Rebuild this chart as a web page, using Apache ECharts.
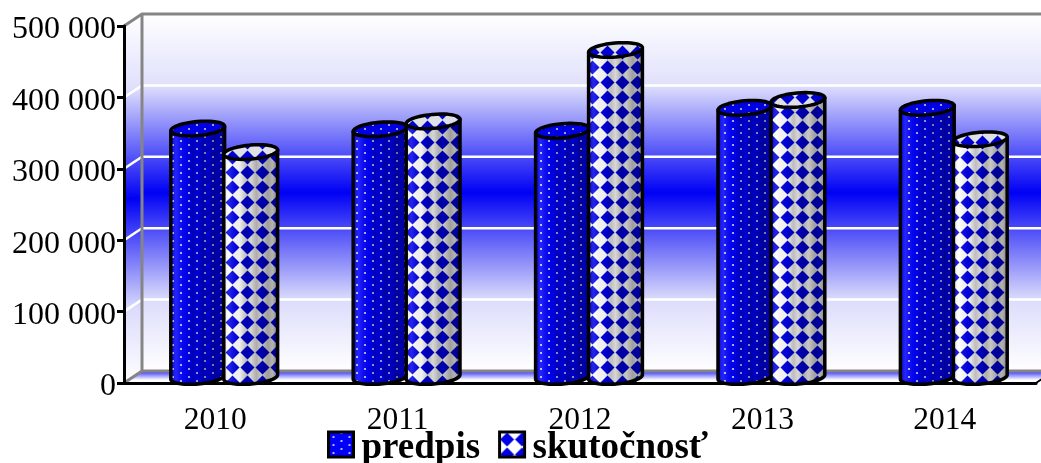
<!DOCTYPE html>
<html>
<head>
<meta charset="utf-8">
<style>html,body{margin:0;padding:0;background:#fff}#chart{width:1041px;height:463px}</style>
<script src="https://cdn.jsdelivr.net/npm/echarts@6/dist/echarts.min.js"></script>
</head>
<body>
<div id="chart"></div>
<script>
const categories = ['2010', '2011', '2012', '2013', '2014'];
const predpis = [348000, 347000, 345000, 377000, 377000];
const skutocnost = [315000, 358000, 458000, 388000, 333000];
const yTicks = [100000, 200000, 300000, 400000, 500000];

const depthX = 18, depthY = 12; // 3d wall offset
const rx = 27, ry = 7, tilt = -5 * Math.PI / 180;

function makeTile(size, bg, draw) {
	const c = document.createElement('canvas');
	c.width = c.height = size;
	const ctx = c.getContext('2d');
	ctx.fillStyle = bg;
	ctx.fillRect(0, 0, size, size);
	draw(ctx);
	return { image: c, repeat: 'repeat' };
}
// blue with small white dots
const dots = makeTile(16, '#0000fa', ctx => {
	ctx.fillStyle = '#b4b4ff';
	[[4, 4], [4, 12], [12, 0], [12, 8]].forEach(p => ctx.fillRect(p[0], p[1], 2, 2));
});
// white with blue diamonds
const diamonds = makeTile(15, '#ffffff', ctx => {
	ctx.fillStyle = '#0000e6';
	ctx.beginPath();
	ctx.moveTo(7.5, 0.5);
	ctx.lineTo(14.5, 7.5);
	ctx.lineTo(7.5, 14.5);
	ctx.lineTo(0.5, 7.5);
	ctx.closePath();
	ctx.fill();
});

const wallGrad = () => new echarts.graphic.LinearGradient(0, 0, 0, 1, [
	{ offset: 0, color: '#ffffff' },
	{ offset: 0.2, color: '#e0e0fd' },
	{ offset: 0.5, color: '#0000f5' },
	{ offset: 0.8, color: '#dcdcfc' },
	{ offset: 1, color: '#ffffff' }
]);
const shade = new echarts.graphic.LinearGradient(0, 0, 1, 0, [
	{ offset: 0, color: 'rgba(0,0,0,0.15)' },
	{ offset: 0.12, color: 'rgba(255,255,255,0.15)' },
	{ offset: 0.3, color: 'rgba(0,0,0,0.06)' },
	{ offset: 0.42, color: 'rgba(0,0,0,0.26)' },
	{ offset: 0.5, color: 'rgba(0,0,0,0.16)' },
	{ offset: 0.6, color: 'rgba(0,0,0,0.32)' },
	{ offset: 0.68, color: 'rgba(0,0,0,0.22)' },
	{ offset: 0.8, color: 'rgba(0,0,0,0.38)' },
	{ offset: 0.88, color: 'rgba(0,0,0,0.3)' },
	{ offset: 1, color: 'rgba(0,0,0,0.55)' }
]);

function arc(cx, cy, from, to) {
	const pts = [];
	for (let i = 0; i <= 40; i++) {
		const t = from + (to - from) * i / 40;
		const ex = rx * Math.cos(t), ey = ry * Math.sin(t);
		pts.push([cx + ex * Math.cos(tilt) - ey * Math.sin(tilt), cy + ex * Math.sin(tilt) + ey * Math.cos(tilt)]);
	}
	return pts;
}

function cylinder(side, pattern) {
	return function (params, api) {
		const top = api.coord([api.value(0), api.value(1)]);
		const base = api.coord([api.value(0), 0]);
		const cx = top[0] + depthX / 2 + side * 26.5;
		const topY = top[1] - depthY / 2, baseY = base[1] - depthY / 2;
		// right side round the bottom to the left side, then up
		const body = arc(cx, baseY, 0, Math.PI).concat(arc(cx, topY, Math.PI, Math.PI));
		body.push(arc(cx, topY, 0, 0)[0]);
		const lid = arc(cx, topY, 0, Math.PI * 2);
		const line = { stroke: '#000', lineWidth: 3.5, lineJoin: 'round' };
		return {
			type: 'group',
			children: [
				{ type: 'polygon', shape: { points: body }, style: { fill: pattern } },
				{ type: 'polygon', shape: { points: body }, style: Object.assign({ fill: shade }, line) },
				{ type: 'polygon', shape: { points: lid }, style: { fill: pattern } },
				{ type: 'polygon', shape: { points: lid }, style: Object.assign({ fill: 'rgba(0,0,60,0.12)' }, line) }
			]
		};
	};
}

function renderWalls(params, api) {
	const left = params.coordSys.x, w = params.coordSys.width;
	const y0 = api.coord([0, 0])[1];
	const yTop = api.coord([0, yTicks[yTicks.length - 1]])[1];
	const backL = left + depthX, backR = left + w + depthX;
	const children = [
		{ type: 'rect', shape: { x: backL, y: yTop - depthY, width: w + depthX, height: y0 - yTop }, style: { fill: wallGrad() } },
		{ type: 'polygon', shape: { points: [[left, yTop], [backL, yTop - depthY], [backL, y0 - depthY], [left, y0]] }, style: { fill: wallGrad() } },
		{
			type: 'polygon',
			shape: { points: [[left, y0], [backL, y0 - depthY], [backR, y0 - depthY], [left + w, y0]] },
			style: { fill: new echarts.graphic.LinearGradient(0, 0, 0, 1, [{ offset: 0, color: '#3030ff' }, { offset: 0.75, color: '#ffffff' }, { offset: 1, color: '#ffffff' }]) }
		}
	];
	yTicks.slice(0, -1).forEach(v => {
		const y = api.coord([0, v])[1];
		children.push({ type: 'polyline', shape: { points: [[left, y], [backL, y - depthY], [backR, y - depthY]] }, style: { fill: null, stroke: '#fff', lineWidth: 2.5 } });
	});
	const gray = { fill: null, stroke: '#858585', lineWidth: 3 };
	children.push({ type: 'polyline', shape: { points: [[left, yTop], [backL, yTop - depthY], [backR, yTop - depthY]] }, style: gray });
	children.push({ type: 'polyline', shape: { points: [[left, y0], [backL, y0 - depthY], [backR, y0 - depthY]] }, style: gray });
	children.push({ type: 'line', shape: { x1: backL, y1: yTop - depthY, x2: backL, y2: y0 - depthY }, style: gray });
	children.push({ type: 'line', shape: { x1: left + w, y1: y0, x2: backR, y2: y0 - depthY }, style: { stroke: '#000', lineWidth: 2 } });
	return { type: 'group', children: children };
}

const font = '"Liberation Serif", "Times New Roman", serif';
const chart = echarts.init(document.getElementById('chart'), null, { renderer: 'canvas' });
chart.setOption({
	animation: false,
	backgroundColor: '#fff',
	grid: { left: 124, top: 26, width: 912, height: 357, containLabel: false },
	legend: {
		left: 322,
		top: 425,
		itemWidth: 25,
		itemHeight: 25,
		itemGap: 18,
		selectedMode: false,
		formatter: name => '{t|' + name + '}',
		textStyle: {
			rich: { t: { fontFamily: font, fontSize: 37, fontWeight: 'bold', color: '#000', padding: [8, 0, 0, 3] } }
		},
		data: [
			{ name: 'predpis', icon: 'rect', itemStyle: { color: dots, borderColor: '#000', borderWidth: 3 } },
			{ name: 'skutočnosť', icon: 'rect', itemStyle: { color: diamonds, borderColor: '#000', borderWidth: 3 } }
		]
	},
	xAxis: {
		type: 'category',
		data: categories,
		axisLine: { lineStyle: { color: '#000', width: 3 } },
		axisTick: { length: 9, lineStyle: { color: '#000', width: 3 } },
		axisLabel: { fontFamily: font, fontSize: 31.5, color: '#000', margin: 22 }
	},
	yAxis: {
		type: 'value',
		min: 0,
		max: 500000,
		interval: 100000,
		splitLine: { show: false },
		axisLine: { show: true, lineStyle: { color: '#000', width: 3 } },
		axisTick: { show: true, length: 7, lineStyle: { color: '#000', width: 3 } },
		axisLabel: {
			color: '#000',
			margin: 8,
			formatter: v => '{v|' + String(v).replace(/\B(?=(\d{3})+$)/g, ' ') + '}',
			rich: { v: { fontFamily: font, fontSize: 32, color: '#000', padding: [8, 0, 0, 0] } }
		}
	},
	series: [
		{ name: 'walls', type: 'custom', z: -1, silent: true, renderItem: renderWalls, data: [[0, 0]], encode: { x: 0, y: 1 } },
		{ name: 'predpis', type: 'custom', renderItem: cylinder(-1, dots), itemStyle: { color: dots }, data: predpis.map((v, i) => [i, v]), encode: { x: 0, y: 1 } },
		{ name: 'skutočnosť', type: 'custom', renderItem: cylinder(1, diamonds), itemStyle: { color: diamonds }, data: skutocnost.map((v, i) => [i, v]), encode: { x: 0, y: 1 } }
	]
});
</script>
</body>
</html>
